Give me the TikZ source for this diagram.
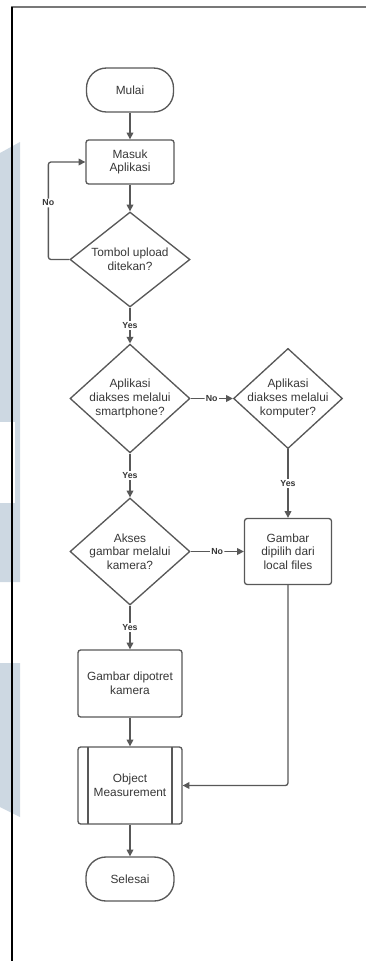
\documentclass[tikz,border=0pt]{standalone}
\usepackage{fontspec}
\setmainfont{Liberation Sans}
\usepackage[dvipsnames,svgnames,x11names]{xcolor}
\usetikzlibrary{backgrounds, calc, positioning}
\usetikzlibrary{arrows.meta, shapes.geometric}

\definecolor{flowgray}{RGB}{88,88,88}
\definecolor{textgray}{RGB}{55,55,55}
\definecolor{markblue}{RGB}{205,216,226}
\definecolor{framegray}{RGB}{120,120,120}

\begin{document}
\begin{tikzpicture}[x=0.75pt, y=-0.75pt]

\useasboundingbox (0,0) rectangle (366,961);

\tikzset{
  base box/.style={
    draw=flowgray,
    line width=1pt,
    text=textgray,
    align=center,
    font=\fontsize{8.9}{10.2}\selectfont,
    inner sep=2pt
  },
  terminal box/.style={base box, rectangle, rounded corners=15pt},
  process box/.style={base box, rectangle, rounded corners=2pt},
  decision box/.style={base box, diamond, inner sep=-2pt},
  subprocess box/.style={
    process box,
    path picture={
      \draw[flowgray, line width=1pt]
        ([xshift=7.5pt]path picture bounding box.north west) -- ([xshift=7.5pt]path picture bounding box.south west);
      \draw[flowgray, line width=1pt]
        ([xshift=-7.5pt]path picture bounding box.north east) -- ([xshift=-7.5pt]path picture bounding box.south east);
    }
  },
  flow line/.style={
    draw=flowgray,
    line width=1pt,
    rounded corners=2pt,
    -{Triangle[length=5pt, width=5pt]}
  },
  flow label/.style={
    fill=white,
    text=textgray,
    font=\fontsize{6.6}{7}\selectfont\bfseries,
    inner sep=1pt
  }
}

% watermark and page frame
\fill[markblue] (0,153) -- (20,142) -- (20,582) -- (0,582) -- cycle;
\fill[white] (0,422) rectangle (15,503);
\fill[markblue] (0,663) -- (20,663) -- (20,817) -- (0,807) -- cycle;
\draw[framegray, line width=1.5pt] (11,7) -- (366,7);
\draw[black, line width=0.9pt] (12,6.5) -- (12,961);

\node[terminal box, minimum width=65.25pt, minimum height=33pt] (mulai) at (130,90) {Mulai};
\node[process box, minimum width=66pt, minimum height=33pt] (masuk) at (130,162) {Masuk\\Aplikasi};
\node[decision box, minimum width=90pt, minimum height=71.25pt] (tombol) at (130,259.5) {Tombol upload\\ditekan?};
\node[decision box, minimum width=90pt, minimum height=80.25pt] (hp) at (130,398.5) {Aplikasi\\diakses melalui\\smartphone?};
\node[decision box, inner sep=-3.6pt, minimum width=81.75pt, minimum height=72.75pt] (pc) at (288,398.5) {Aplikasi\\diakses melalui\\komputer?};
\node[decision box, minimum width=90pt, minimum height=80.25pt] (kamera) at (130,551.5) {Akses\\gambar melalui\\kamera?};
\node[process box, minimum width=65.25pt, minimum height=49.5pt] (lokal) at (288,551.5) {Gambar\\dipilih dari\\local files};
\node[process box, minimum width=78pt, minimum height=50.25pt] (potret) at (130,683.5) {Gambar dipotret\\kamera};
\node[subprocess box, minimum width=78pt, minimum height=57.75pt] (om) at (130,785.5) {Object\\Measurement};
\node[terminal box, minimum width=66pt, minimum height=33pt] (selesai) at (130,879) {Selesai};

\draw[flow line] (mulai) -- (masuk);
\draw[flow line] (masuk) -- (tombol);
\draw[flow line] (tombol.west) -- ++(-21,0) |- node[flow label, pos=0.29] {No} (masuk.west);
\draw[flow line] (tombol) -- node[flow label] {Yes} (hp);
\draw[flow line] (hp) -- node[flow label] {No} (pc);
\draw[flow line] (hp) -- node[flow label] {Yes} (kamera);
\draw[flow line] (pc) -- node[flow label] {Yes} (lokal);
\draw[flow line] (kamera) -- node[flow label] {No} (lokal);
\draw[flow line] (kamera) -- node[flow label] {Yes} (potret);
\draw[flow line] (potret) -- (om);
\draw[flow line] (lokal.south) |- (om.east);
\draw[flow line] (om) -- (selesai);

\end{tikzpicture}
\end{document}
